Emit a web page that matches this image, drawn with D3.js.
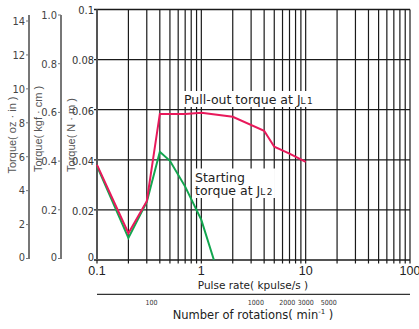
<!DOCTYPE html>
<html><head><meta charset="utf-8">
<script src="https://cdn.jsdelivr.net/npm/d3@7"></script>
<style>body{margin:0;background:#fff}svg{display:block}</style>
</head><body>
<script>
// ---- data ----
const pullRate   = [0.1, 0.2, 0.3, 0.4, 0.7, 1, 2, 4, 5, 7, 10];
const pullTorque = [0.038, 0.0107, 0.0235, 0.0583, 0.0583, 0.0588, 0.0572, 0.0516, 0.0452, 0.0425, 0.0392];
const startRate   = [0.1, 0.2, 0.3, 0.4, 0.5, 0.7, 1, 1.32];
const startTorque = [0.0375, 0.0088, 0.0232, 0.0432, 0.0396, 0.0293, 0.016, 0];
const nmTicks  = [0, 0.02, 0.04, 0.06, 0.08, 0.1];
const nmLabels = ["0", "0.02", "0.04", "0.06", "0.08", "0.1"];
const kgfTicks = [0, 0.2, 0.4, 0.6, 0.8, 1.0];
const kgfLabels = ["0", "0.2", "0.4", "0.6", "0.8", "1.0"];
const ozTicks  = [0, 2, 4, 6, 8, 10, 12, 14];
const pulseTicks = [0.1, 1, 10, 100];
const pulseLabels = ["0.1", "1", "10", "100"];
const rpmTicks = [100, 1000, 2000, 3000, 5000];
const pulsesPerRev = 200;

const W = 419, H = 329;
const narrow = '"Liberation Sans Narrow","Arial Narrow","DejaVu Sans Condensed",sans-serif';
const sans = '"Liberation Sans",Arial,Helvetica,sans-serif';
const wide = '"DejaVu Sans",Verdana,sans-serif';

const svg = d3.select("body").append("svg").attr("width", W).attr("height", H);

const x = d3.scaleLog().domain([0.1, 100]).range([97, 410]);
const y = d3.scaleLinear().domain([0, 0.1]).range([260, 9.5]);
const yK = d3.scaleLinear().domain([0, 1]).range([258.5, 15]);
const yO = d3.scaleLinear().domain([0, 14]).range([258.5, 21]);
const rpmToPulse = r => r * pulsesPerRev / 60000; // kpulse/s

// ---- grid ----
const minor = [];
for (let d = 0.1; d < 100; d *= 10) for (let k = 1; k <= 9; k++) minor.push(+(d * k).toPrecision(3));
minor.push(100);
const g = svg.append("g");
g.selectAll("line.v").data(minor).join("line")
  .attr("x1", d => x(d)).attr("x2", d => x(d))
  .attr("y1", y(0.1)).attr("y2", y(0) + 3.5)
  .attr("stroke", "#1a1a1a").attr("stroke-width", 1.2);
g.selectAll("line.h").data(nmTicks).join("line")
  .attr("x1", x(0.1) - 3).attr("x2", x(100))
  .attr("y1", d => y(d)).attr("y2", d => y(d))
  .attr("stroke", "#1a1a1a").attr("stroke-width", 1.3);
g.append("line").attr("x1", x(0.1)).attr("x2", x(0.1)).attr("y1", y(0.1)).attr("y2", y(0))
  .attr("stroke", "#555").attr("stroke-width", 2);

// N·m tick labels
svg.append("g").selectAll("text").data(nmTicks).join("text")
  .attr("x", 94).attr("y", d => y(d) + (d === 0 ? -3 : 1)).attr("dy", "0.35em")
  .attr("text-anchor", "end").attr("font-family", narrow).attr("font-size", 11)
  .attr("fill", "#333").text((d, i) => nmLabels[i]);

// ---- side axes ----
function sideAxis(xPos, scale, ticks, labels) {
  const a = svg.append("g");
  a.append("line").attr("x1", xPos).attr("x2", xPos).attr("y1", 15).attr("y2", 259)
    .attr("stroke", "#777").attr("stroke-width", 2);
  a.selectAll("line.t").data(ticks).join("line")
    .attr("x1", xPos - 3).attr("x2", xPos).attr("y1", d => scale(d)).attr("y2", d => scale(d))
    .attr("stroke", "#777").attr("stroke-width", 1);
  a.selectAll("text").data(ticks).join("text")
    .attr("x", xPos - 4).attr("y", d => scale(d) + (d === 0 ? -1.5 : 0)).attr("dy", "0.35em")
    .attr("text-anchor", "end").attr("font-family", narrow).attr("font-size", 11)
    .attr("fill", "#444").text((d, i) => labels ? labels[i] : d);
}
sideAxis(29, yO, ozTicks, null);
sideAxis(61, yK, kgfTicks, kgfLabels);

function vtitle(cx, cy, txt) {
  svg.append("text").attr("transform", `translate(${cx},${cy}) rotate(-90)`)
    .attr("text-anchor", "middle").attr("dy", "0.35em")
    .attr("font-family", sans).attr("font-size", 11).attr("fill", "#555").text(txt);
}
vtitle(12.5, 135, "Torque( oz · in )");
vtitle(38, 129, "Torque( kgf · cm )");
vtitle(71, 135, "Torque( N · m )");

// x labels
svg.append("g").selectAll("text").data(pulseTicks).join("text")
  .attr("x", d => x(d)).attr("y", 275).attr("text-anchor", "middle")
  .attr("font-family", sans).attr("font-size", 12.5).attr("fill", "#222")
  .text((d, i) => pulseLabels[i]);
svg.append("text").attr("x", 253).attr("y", 288.5).attr("text-anchor", "middle")
  .attr("font-family", wide).attr("font-size", 10.5).attr("fill", "#222")
  .text("Pulse rate( kpulse/s )");

// rotations axis
svg.append("line").attr("x1", 97).attr("x2", 410).attr("y1", 294.3).attr("y2", 294.3)
  .attr("stroke", "#333").attr("stroke-width", 1.2);
svg.append("g").selectAll("text").data(rpmTicks).join("text")
  .attr("x", d => x(rpmToPulse(d))).attr("y", 304.5).attr("text-anchor", "middle")
  .attr("font-family", narrow).attr("font-size", 7).attr("fill", "#333").text(d => d);
const nt = svg.append("text").attr("x", 253).attr("y", 318.5).attr("text-anchor", "middle")
  .attr("font-family", wide).attr("font-size", 11.5).attr("fill", "#222");
nt.append("tspan").text("Number of rotations( min");
nt.append("tspan").attr("font-size", 7).attr("dy", -5).text("-1");
nt.append("tspan").attr("dy", 5).text(" )");

// annotations with white background
function label(lines, xPos, yPos, lh) {
  const gg = svg.append("g");
  const rect = gg.append("rect").attr("fill", "#fff");
  const t = gg.append("text").attr("font-family", wide).attr("font-size", 12.5).attr("fill", "#222");
  lines.forEach((ln, i) => {
    const ts = t.append("tspan").attr("x", xPos).attr("y", yPos + i * lh);
    ts.append("tspan").text(ln[0]);
    if (ln[1]) ts.append("tspan").attr("font-size", 9).attr("letter-spacing", 1.5).text(ln[1]);
  });
  const b = t.node().getBBox();
  rect.attr("x", b.x - 2).attr("y", b.y - 1).attr("width", b.width + 3).attr("height", b.height + 1);
}
label([["Pull-out torque at J", "L1"]], 184, 104, 0);
label([["Starting", null], ["torque at J", "L2"]], 195, 181.5, 13.5);

// ---- curves ----
const line = d3.line().x(d => x(d[0])).y(d => y(d[1]));
svg.append("path").datum(startRate.map((r, i) => [r, startTorque[i]]))
  .attr("d", line).attr("fill", "none").attr("stroke", "#12a64f").attr("stroke-width", 2);
svg.append("path").datum(pullRate.map((r, i) => [r, pullTorque[i]]))
  .attr("d", line).attr("fill", "none").attr("stroke", "#e8195b").attr("stroke-width", 2);
</script>
</body></html>
